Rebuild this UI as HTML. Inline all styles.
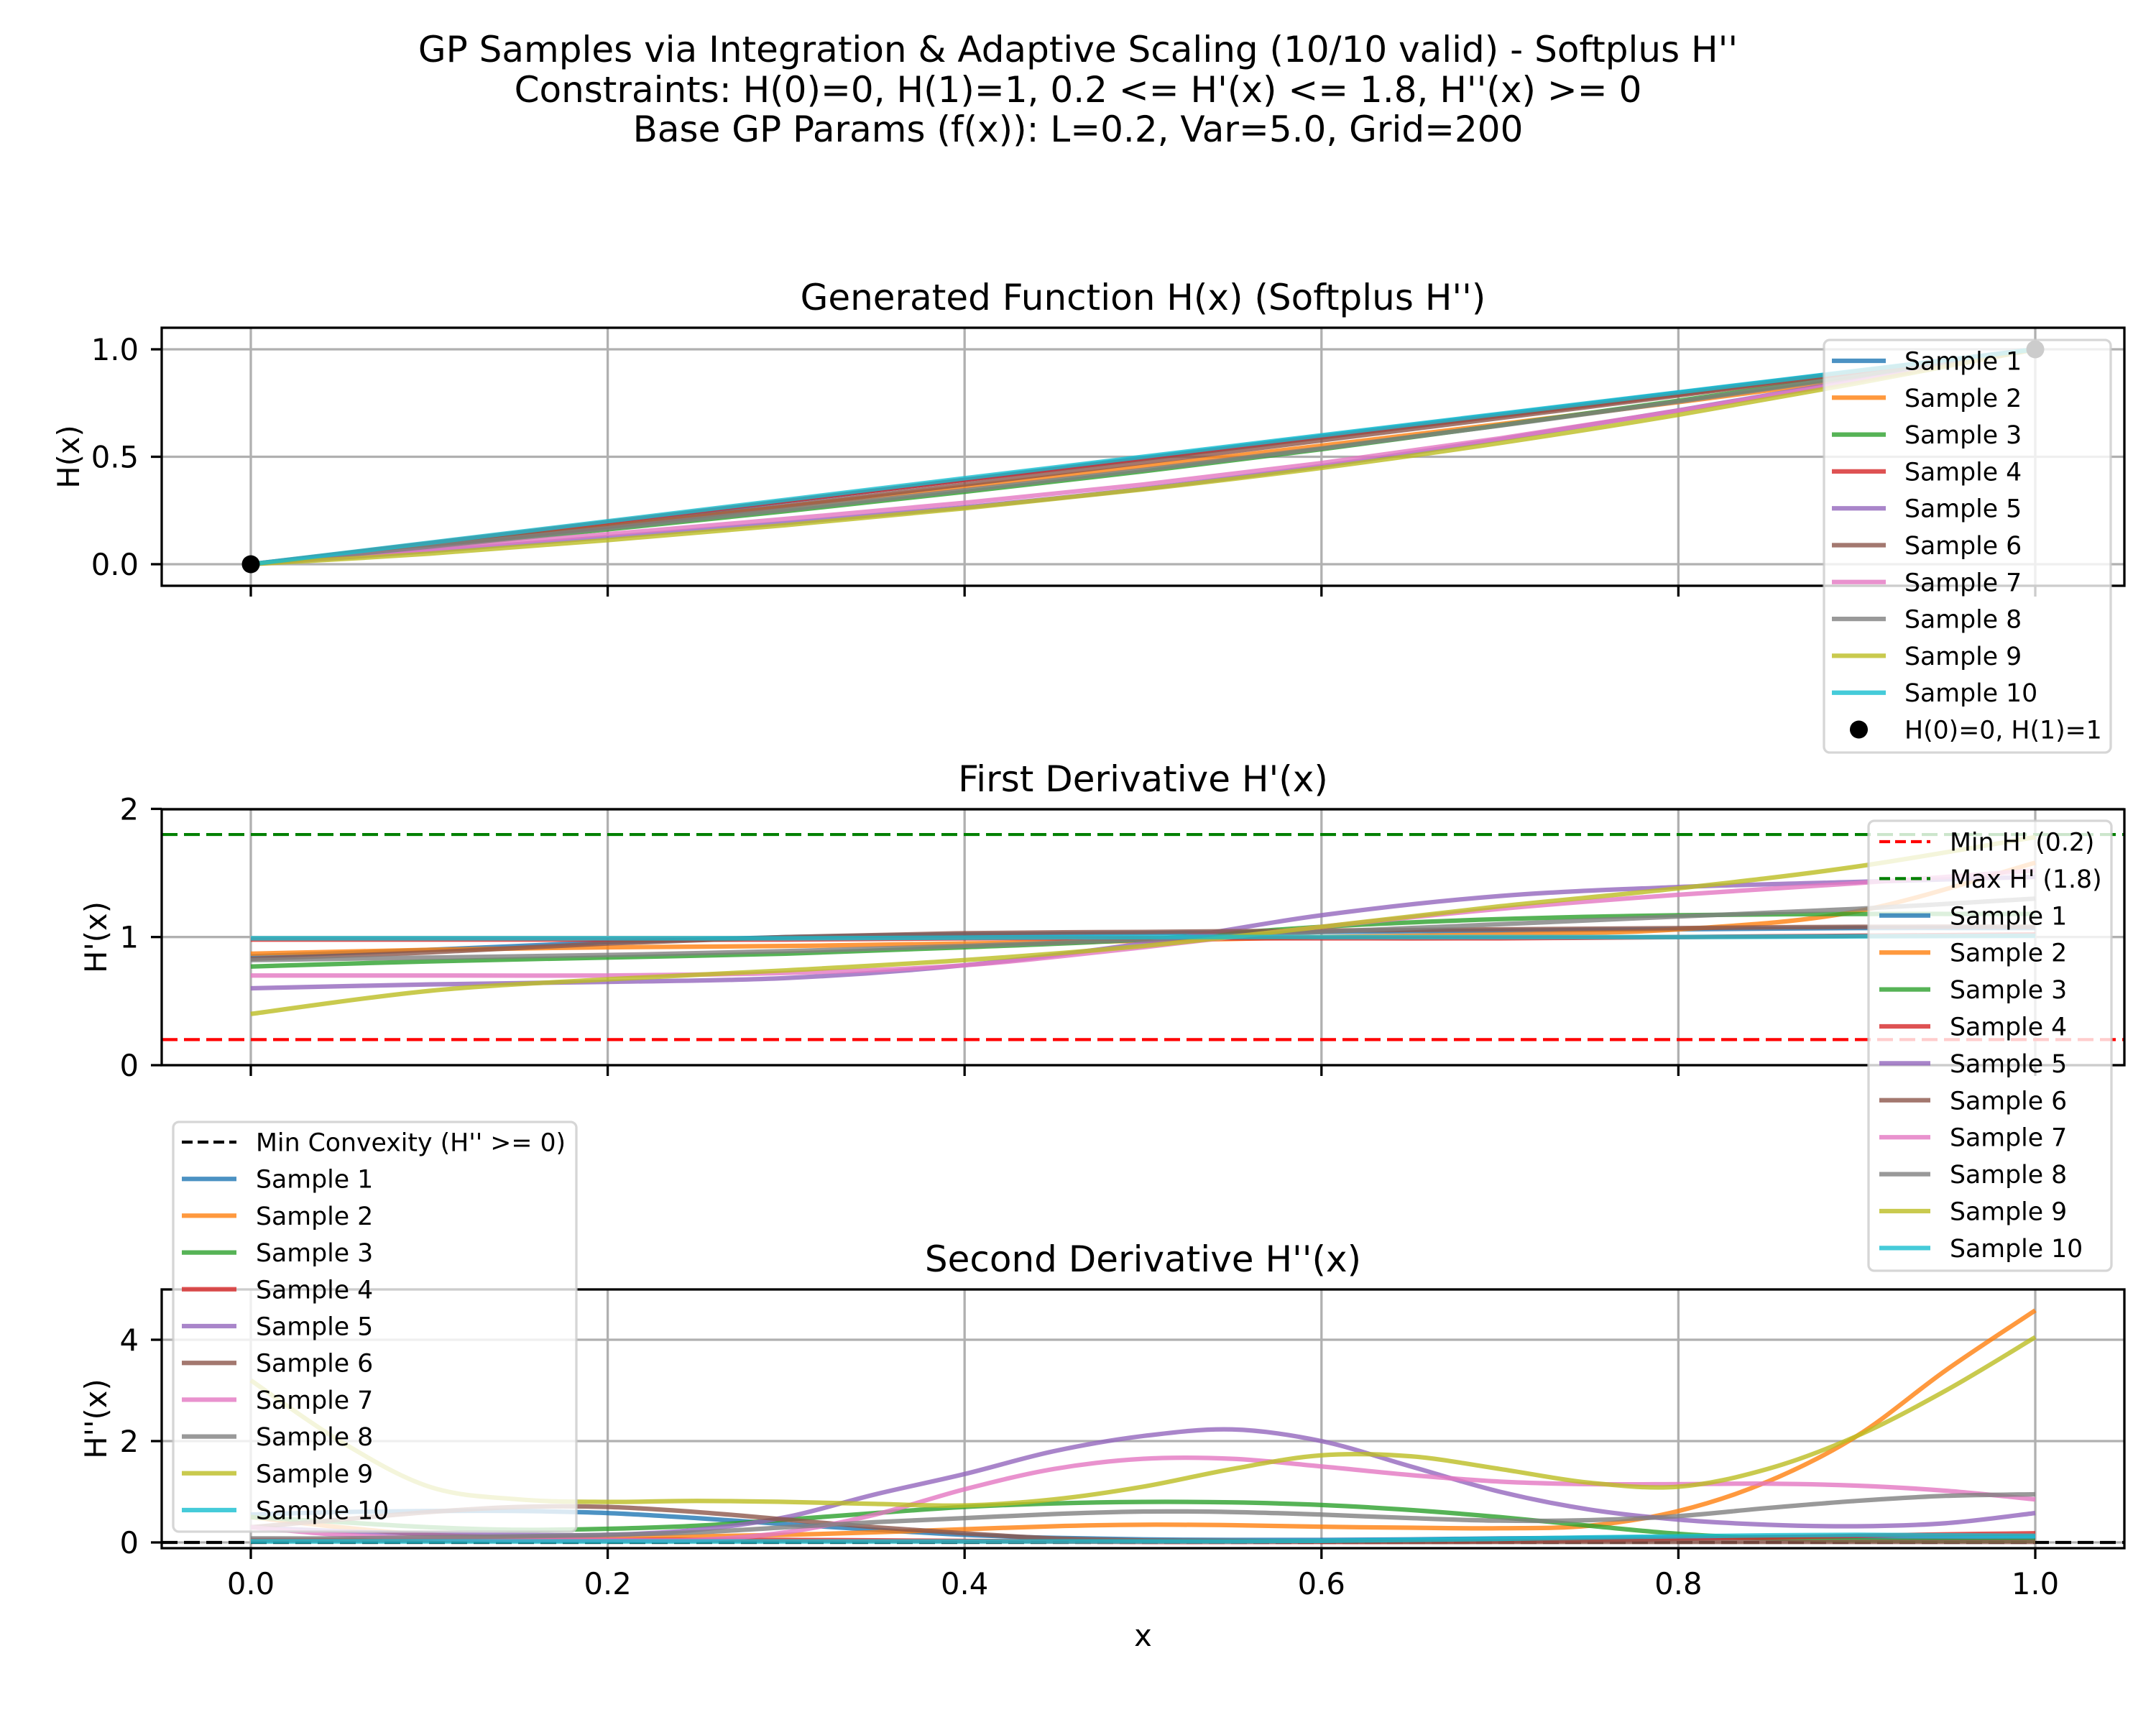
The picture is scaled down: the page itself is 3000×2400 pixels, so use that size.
<!DOCTYPE html>
<html><head><meta charset="utf-8"><style>
html,body{margin:0;padding:0;background:#fff;}
svg{display:block;font-family:"DejaVu Sans","Liberation Sans",sans-serif;}
</style></head><body>
<svg id="fig" xmlns="http://www.w3.org/2000/svg" width="3000" height="2400" viewBox="0 0 3000 2400">
<rect width="3000" height="2400" fill="#fff"/>
<g font-size="50" text-anchor="middle" fill="#000">
<text x="1500" y="86">GP Samples via Integration &amp; Adaptive Scaling (10/10 valid) - Softplus H''</text>
<text x="1500" y="142">Constraints: H(0)=0, H(1)=1, 0.2 &lt;= H'(x) &lt;= 1.8, H''(x) &gt;= 0</text>
<text x="1500" y="197">Base GP Params (f(x)): L=0.2, Var=5.0, Grid=200</text>
</g>
</svg>
<script>
// ---- data ----
const xCoarse = [0,0.1,0.2,0.3,0.4,0.5,0.6,0.7,0.8,0.9,1.0];
const xFine = [0,0.05,0.1,0.15,0.2,0.25,0.3,0.35,0.4,0.45,0.5,0.55,0.6,0.65,0.7,0.75,0.8,0.85,0.9,0.95,1.0];
const sampleNames = ["Sample 1","Sample 2","Sample 3","Sample 4","Sample 5","Sample 6","Sample 7","Sample 8","Sample 9","Sample 10"];
const H_s1 = [0,0.095,0.192,0.292,0.393,0.494,0.596,0.697,0.798,0.899,1];
const H_s2 = [0,0.087,0.177,0.268,0.36,0.455,0.552,0.652,0.754,0.866,1];
const H_s3 = [0,0.079,0.162,0.247,0.337,0.432,0.535,0.646,0.761,0.879,1];
const H_s4 = [0,0.098,0.196,0.294,0.392,0.49,0.59,0.69,0.79,0.895,1];
const H_s5 = [0,0.061,0.126,0.192,0.265,0.351,0.457,0.581,0.716,0.857,1];
const H_s6 = [0,0.084,0.175,0.271,0.371,0.473,0.576,0.68,0.785,0.893,1];
const H_s7 = [0,0.07,0.14,0.211,0.286,0.371,0.471,0.586,0.714,0.851,1];
const H_s8 = [0,0.082,0.167,0.254,0.344,0.439,0.539,0.645,0.757,0.875,1];
const H_s9 = [0,0.049,0.112,0.182,0.26,0.348,0.448,0.564,0.695,0.842,1];
const H_s10 = [0,0.1,0.2,0.3,0.4,0.5,0.6,0.7,0.8,0.9,1];
const Hp_s1 = [0.85,0.9,0.96,1.0,1.02,1.03,1.04,1.05,1.06,1.07,1.07];
const Hp_s2 = [0.87,0.9,0.92,0.93,0.95,0.97,1.0,1.02,1.06,1.2,1.58];
const Hp_s3 = [0.77,0.81,0.84,0.87,0.92,0.98,1.08,1.14,1.17,1.18,1.18];
const Hp_s4 = [0.98,0.98,0.98,0.98,0.99,0.99,0.99,0.99,1.0,1.01,1.02];
const Hp_s5 = [0.6,0.63,0.65,0.68,0.78,0.95,1.17,1.32,1.39,1.43,1.47];
const Hp_s6 = [0.83,0.88,0.95,1.0,1.03,1.04,1.05,1.06,1.07,1.08,1.08];
const Hp_s7 = [0.7,0.7,0.7,0.72,0.78,0.92,1.08,1.22,1.33,1.42,1.52];
const Hp_s8 = [0.82,0.84,0.86,0.89,0.93,0.98,1.04,1.1,1.16,1.22,1.3];
const Hp_s9 = [0.4,0.58,0.67,0.74,0.82,0.93,1.08,1.24,1.38,1.55,1.78];
const Hp_s10 = [0.99,0.99,0.99,0.99,0.995,1.0,1.0,1.0,1.0,1.005,1.01];
const Hpp_s1 = [0.55,0.6,0.62,0.62,0.58,0.48,0.36,0.25,0.15,0.09,0.06,0.05,0.05,0.06,0.08,0.09,0.1,0.11,0.11,0.1,0.1];
const Hpp_s2 = [0.5,0.3,0.15,0.1,0.1,0.12,0.15,0.2,0.26,0.32,0.35,0.34,0.31,0.29,0.28,0.33,0.62,1.2,2.1,3.4,4.58];
const Hpp_s3 = [0.5,0.4,0.3,0.25,0.27,0.33,0.45,0.58,0.7,0.77,0.8,0.79,0.74,0.64,0.5,0.33,0.17,0.08,0.04,0.03,0.03];
const Hpp_s4 = [0.05,0.05,0.05,0.05,0.05,0.05,0.05,0.04,0.03,0.02,0.01,0.01,0.01,0.01,0.02,0.04,0.07,0.1,0.13,0.16,0.18];
const Hpp_s5 = [0.3,0.22,0.17,0.15,0.15,0.25,0.5,0.95,1.35,1.8,2.1,2.23,2.0,1.5,1.0,0.65,0.45,0.35,0.32,0.38,0.58];
const Hpp_s6 = [0.3,0.45,0.6,0.7,0.7,0.6,0.45,0.3,0.18,0.08,0.04,0.03,0.02,0.01,0.01,0.01,0.01,0.01,0.01,0.01,0.01];
const Hpp_s7 = [0.3,0.15,0.08,0.05,0.05,0.05,0.2,0.55,1.05,1.45,1.65,1.65,1.5,1.33,1.2,1.15,1.15,1.16,1.12,1.02,0.85];
const Hpp_s8 = [0.08,0.08,0.1,0.12,0.15,0.2,0.3,0.4,0.48,0.56,0.61,0.6,0.55,0.48,0.43,0.44,0.52,0.68,0.82,0.92,0.95];
const Hpp_s9 = [3.2,2.0,1.1,0.85,0.8,0.82,0.8,0.76,0.73,0.85,1.1,1.45,1.72,1.7,1.45,1.18,1.1,1.45,2.1,3.0,4.05];
const Hpp_s10 = [0.02,0.02,0.02,0.02,0.02,0.02,0.02,0.02,0.02,0.02,0.02,0.02,0.03,0.05,0.07,0.1,0.12,0.14,0.15,0.14,0.13];
const yTicks1 = [0,0.5,1.0]; const yTickLabels1 = ["0.0","0.5","1.0"];
const yTicks2 = [0,1,2]; const yTickLabels2 = ["0","1","2"];
const yTicks3 = [0,2,4]; const yTickLabels3 = ["0","2","4"];
const xTicks = [0,0.2,0.4,0.6,0.8,1.0]; const xTickLabels = ["0.0","0.2","0.4","0.6","0.8","1.0"];
const minHp = [0.2]; const maxHp = [1.8]; const minConv = [0];
const anchorX = [0,1]; const anchorY = [0,1];

const H_all = [H_s1,H_s2,H_s3,H_s4,H_s5,H_s6,H_s7,H_s8,H_s9,H_s10];
const Hp_all = [Hp_s1,Hp_s2,Hp_s3,Hp_s4,Hp_s5,Hp_s6,Hp_s7,Hp_s8,Hp_s9,Hp_s10];
const Hpp_all = [Hpp_s1,Hpp_s2,Hpp_s3,Hpp_s4,Hpp_s5,Hpp_s6,Hpp_s7,Hpp_s8,Hpp_s9,Hpp_s10];
const colors = ['#1f77b4','#ff7f0e','#2ca02c','#d62728','#9467bd','#8c564b','#e377c2','#7f7f7f','#bcbd22','#17becf'];

// ---- layout ----
const NS = "http://www.w3.org/2000/svg";
const svg = document.getElementById('fig');
const L = 225, R = 2956, X0 = 349, X1 = 2832;
function sx(v){ return X0 + v*(X1-X0); }
const panels = [
 {top:456, bottom:815, y0:785, ppu:299, ylabel:"H(x)", labX:110, title:"Generated Function H(x) (Softplus H'')", ticks:yTicks1, tl:yTickLabels1, name:"h"},
 {top:1126, bottom:1482, y0:1482, ppu:178.3, ylabel:"H'(x)", labX:148, title:"First Derivative H'(x)", ticks:yTicks2, tl:yTickLabels2, name:"h-prime"},
 {top:1794, bottom:2154, y0:2146, ppu:70.5, ylabel:"H''(x)", labX:148, title:"Second Derivative H''(x)", ticks:yTicks3, tl:yTickLabels3, name:"h-double-prime"}
];
function mk(parent, tag, attrs, name, inter){
  const e = document.createElementNS(NS, tag);
  for (const k in attrs) e.setAttribute(k, attrs[k]);
  
  
  parent.appendChild(e);
  return e;
}
function smoothPath(pts){
  let d = "M" + pts[0][0].toFixed(2) + "," + pts[0][1].toFixed(2);
  for (let i=0;i<pts.length-1;i++){
    const p0 = pts[Math.max(0,i-1)], p1 = pts[i], p2 = pts[i+1], p3 = pts[Math.min(pts.length-1,i+2)];
    const c1x = p1[0] + (p2[0]-p0[0])/6, c1y = p1[1] + (p2[1]-p0[1])/6;
    const c2x = p2[0] - (p3[0]-p1[0])/6, c2y = p2[1] - (p3[1]-p1[1])/6;
    d += " C" + c1x.toFixed(2)+","+c1y.toFixed(2)+" "+c2x.toFixed(2)+","+c2y.toFixed(2)+" "+p2[0].toFixed(2)+","+p2[1].toFixed(2);
  }
  return d;
}
const defs = mk(svg,'defs',{},'defs',false);
panels.forEach((p,pi)=>{
  const sy = v => p.y0 - v*p.ppu;
  const cp = mk(defs,'clipPath',{id:'clip'+pi},'clip-'+p.name,false);
  mk(cp,'rect',{x:L,y:p.top,width:R-L,height:p.bottom-p.top},'clip-rect',false);
  const g = mk(svg,'g',{},'panel-'+p.name,false);
  const grid = mk(g,'g',{stroke:'#b0b0b0','stroke-width':3.3},'grid-'+p.name,false);
  xTicks.forEach(t=>{ mk(grid,'line',{x1:sx(t),x2:sx(t),y1:p.top,y2:p.bottom},'x-gridline',false); });
  p.ticks.forEach(t=>{ mk(grid,'line',{x1:L,x2:R,y1:sy(t),y2:sy(t)},'y-gridline',false); });
  const plot = mk(g,'g',{'clip-path':'url(#clip'+pi+')'},'plot-area-'+p.name,false);
  if (pi===1){
    mk(plot,'line',{x1:L,x2:R,y1:sy(minHp[0]),y2:sy(minHp[0]),stroke:'#ff0000','stroke-width':4.2,'stroke-dasharray':'22 9'},'min-h-prime-line',false);
    mk(plot,'line',{x1:L,x2:R,y1:sy(maxHp[0]),y2:sy(maxHp[0]),stroke:'#008000','stroke-width':4.2,'stroke-dasharray':'22 9'},'max-h-prime-line',false);
  }
  if (pi===2){
    mk(plot,'line',{x1:L,x2:R,y1:sy(minConv[0]),y2:sy(minConv[0]),stroke:'#000','stroke-width':4.2,'stroke-dasharray':'22 9'},'min-convexity-line',false);
  }
  const data = pi===0 ? H_all : (pi===1 ? Hp_all : Hpp_all);
  const xs = pi===2 ? xFine : xCoarse;
  data.forEach((arr,si)=>{
    const pts = arr.map((v,i)=>[sx(xs[i]), sy(v)]);
    mk(plot,'path',{d:smoothPath(pts),fill:'none',stroke:colors[si],'stroke-width':6.25,'stroke-opacity':0.8,'stroke-linejoin':'round','stroke-linecap':'butt'},'series-'+p.name+'-sample-'+(si+1),true);
  });
  if (pi===0){
    anchorX.forEach((ax,i)=>{
      mk(g,'circle',{cx:sx(ax),cy:sy(anchorY[i]),r:12.5,fill:'#000'},'anchor-point-'+i,true);
    });
  }
  mk(g,'rect',{x:L,y:p.top,width:R-L,height:p.bottom-p.top,fill:'none',stroke:'#000','stroke-width':3.3},'axes-frame-'+p.name,false);
  p.ticks.forEach((t,i)=>{
    mk(g,'line',{x1:L-15,x2:L,y1:sy(t),y2:sy(t),stroke:'#000','stroke-width':3.3},'y-tick',false);
    const tx = mk(g,'text',{x:193,y:sy(t)+15,'font-size':41.7,'text-anchor':'end'},'y-tick-label',false);
    tx.textContent = p.tl[i];
  });
  xTicks.forEach((t,i)=>{
    mk(g,'line',{x1:sx(t),x2:sx(t),y1:p.bottom,y2:p.bottom+15,stroke:'#000','stroke-width':3.3},'x-tick',false);
    if (pi===2){
      const tx = mk(g,'text',{x:sx(t),y:2218,'font-size':41.7,'text-anchor':'middle'},'x-tick-label',false);
      tx.textContent = xTickLabels[i];
    }
  });
  const yl = mk(g,'text',{x:p.labX,y:(p.top+p.bottom)/2,'font-size':41.7,'text-anchor':'middle',transform:'rotate(-90 '+p.labX+' '+((p.top+p.bottom)/2)+')'},'y-axis-title-'+p.name,false);
  yl.textContent = p.ylabel;
  const tt = mk(g,'text',{x:(L+R)/2,y:p.top-25,'font-size':50,'text-anchor':'middle'},'panel-title-'+p.name,false);
  tt.textContent = p.title;
});
const xl = mk(svg,'text',{x:(L+R)/2,y:2290,'font-size':41.7,'text-anchor':'middle'},'x-axis-title',false);
xl.textContent = "x";

// ---- legends ----
function legend(name, box, hx0, hx1, tx, y0, step, entries){
  const g = mk(svg,'g',{},name,false);
  mk(g,'rect',{x:box[0],y:box[1],width:box[2]-box[0],height:box[3]-box[1],rx:8,fill:'#fff','fill-opacity':0.8,stroke:'#cccccc','stroke-opacity':0.8,'stroke-width':3.3},name+'-frame',false);
  entries.forEach((e,i)=>{
    const y = y0 + i*step;
    const eg = mk(g,'g',{},'legend-entry',true);
    if (e.type==='line') mk(eg,'line',{x1:hx0,x2:hx1,y1:y,y2:y,stroke:e.color,'stroke-width':6.25,'stroke-opacity':0.8},'legend-swatch',false);
    else if (e.type==='dash') mk(eg,'line',{x1:hx0,x2:hx1,y1:y,y2:y,stroke:e.color,'stroke-width':4.2,'stroke-dasharray':'15 7'},'legend-swatch',false);
    else mk(eg,'circle',{cx:(hx0+hx1)/2,cy:y,r:12.5,fill:'#000'},'legend-swatch',false);
    const t = mk(eg,'text',{x:tx,y:y+12.5,'font-size':34.7},'legend-label',false);
    t.textContent = e.label;
  });
}
const sampleEntries = sampleNames.map((n,i)=>({type:'line',color:colors[i],label:n}));
legend('legend-h',[2538,473,2937,1047],2549,2624,2650,502,51.3,
  sampleEntries.concat([{type:'marker',label:'H(0)=0, H(1)=1'}]));
legend('legend-h-prime',[2600,1142,2938,1768],2615,2686,2713,1171,51.4,
  [{type:'dash',color:'#ff0000',label:"Min H' (0.2)"},{type:'dash',color:'#008000',label:"Max H' (1.8)"}].concat(sampleEntries));
legend('legend-h-double-prime',[241,1561,802,2131],253,329,356,1589,51.2,
  [{type:'dash',color:'#000',label:"Min Convexity (H'' >= 0)"}].concat(sampleEntries));
</script>
</body></html>
